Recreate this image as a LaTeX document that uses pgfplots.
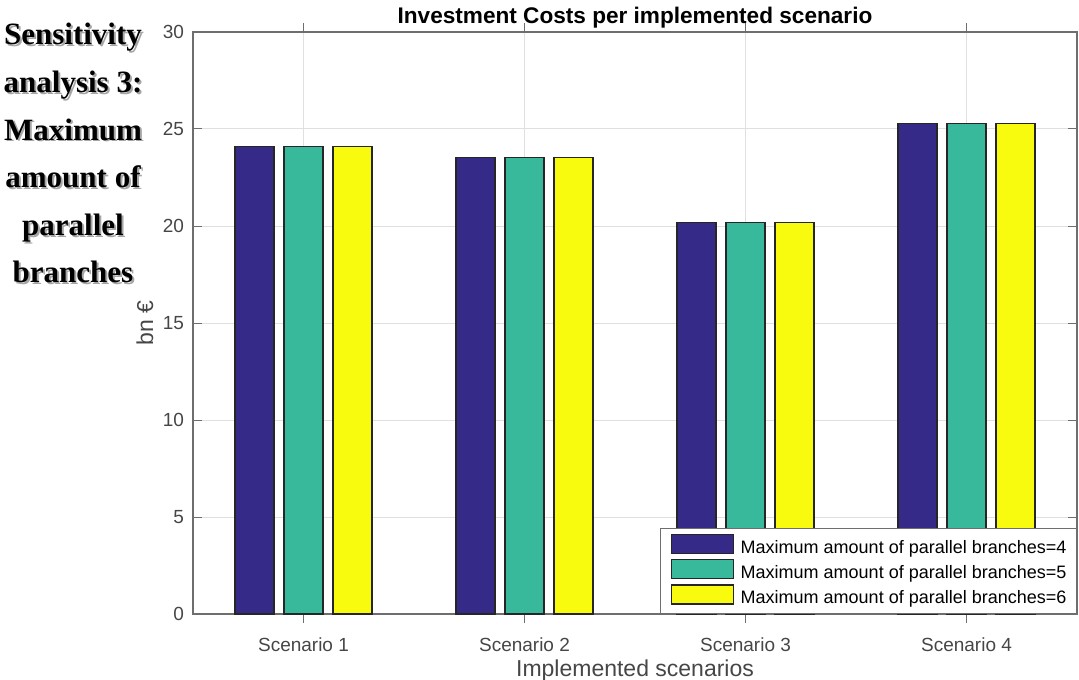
\documentclass[border=0pt]{standalone}
\usepackage{pgfplots}
\pgfplotsset{compat=1.18}
\usepackage{fontspec}
\setmainfont{Liberation Sans}
\newfontfamily\timesfont{Liberation Serif}

\definecolor{c4}{RGB}{53,42,135}
\definecolor{c5}{RGB}{56,185,155}
\definecolor{c6}{RGB}{249,251,14}
\definecolor{axtext}{RGB}{70,70,70}
\definecolor{axline}{RGB}{110,110,110}

\begin{document}
\begin{tikzpicture}
% page = 1079 x 679 px at 0.5pt per px
\useasboundingbox (-96.5pt,-32.5pt) rectangle (443pt,307pt);

\begin{axis}[
    at={(0,0)}, anchor=south west,
    width=442pt, height=291pt, scale only axis,
    xmin=0.5, xmax=4.5,
    ymin=0, ymax=30,
    xtick={1,2,3,4},
    xticklabels={Scenario 1,Scenario 2,Scenario 3,Scenario 4},
    ytick={0,5,10,15,20,25,30},
    /pgf/number format/assume math mode=true,
    tick align=inside,
    major tick length=4.5pt,
    tick style={axline, line width=0.5pt},
    axis line style={axline, line width=0.6pt},
    grid=major,
    grid style={black!12, line width=0.5pt},
    ticklabel style={font=\fontsize{9.5}{11}\selectfont, text=axtext},
    xticklabel style={anchor=base, yshift=-14pt},
    yticklabel style={xshift=-1pt},
    title={Investment Costs per implemented scenario},
    every axis title/.style={at={(axis description cs:0.5,1)}, anchor=base, yshift=4pt,
        font=\bfseries\fontsize{11.3}{13}\selectfont},
    xlabel={Implemented scenarios},
    every axis x label/.style={at={(axis description cs:0.5,0)}, anchor=base, yshift=-31pt,
        font=\fontsize{11.5}{13}\selectfont, text=axtext},
    ylabel={bn €},
    every axis y label/.style={at={(axis description cs:-0.0452,0.5)}, rotate=90, anchor=base,
        font=\fontsize{11.5}{13}\selectfont, text=axtext},
    ybar=5pt, bar width=19.5pt,
    legend style={
        at={(1,0)}, anchor=south east,
        draw=axline, fill=white, line width=0.6pt,
        font=\fontsize{9}{10}\selectfont,
        inner xsep=5pt, inner ysep=3pt,
        row sep=1pt, column sep=3.5pt,
        nodes={inner sep=0pt, text height=6.5pt, text depth=2pt},
    },
    legend cell align=left,
    legend image code/.code={\draw[#1] (0pt,-2.5pt) rectangle (31pt,7pt);},
]
\addplot[fill=c4, draw=black!85, line width=0.6pt] coordinates {(1,24.1) (2,23.55) (3,20.2) (4,25.3)};
\addlegendentry{Maximum amount of parallel branches=4}
\addplot[fill=c5, draw=black!85, line width=0.6pt] coordinates {(1,24.1) (2,23.55) (3,20.2) (4,25.3)};
\addlegendentry{Maximum amount of parallel branches=5}
\addplot[fill=c6, draw=black!85, line width=0.6pt] coordinates {(1,24.1) (2,23.55) (3,20.2) (4,25.3)};
\addlegendentry{Maximum amount of parallel branches=6}

\coordinate (tl) at (axis description cs:0,1);
\end{axis}

% side caption with a soft shadow
\foreach \t [count=\i from 0] in {Sensitivity,analysis 3:,Maximum,amount of,parallel,branches}{
    \node[anchor=base, text=black!35, font=\timesfont\bfseries\fontsize{15.5}{18}\selectfont]
        at ([xshift=-59pt,yshift={-7.5pt-23.75pt*\i}]tl) {\t};
    \node[anchor=base, font=\timesfont\bfseries\fontsize{15.5}{18}\selectfont]
        at ([xshift=-60pt,yshift={-6.5pt-23.75pt*\i}]tl) {\t};
}
\end{tikzpicture}
\end{document}
